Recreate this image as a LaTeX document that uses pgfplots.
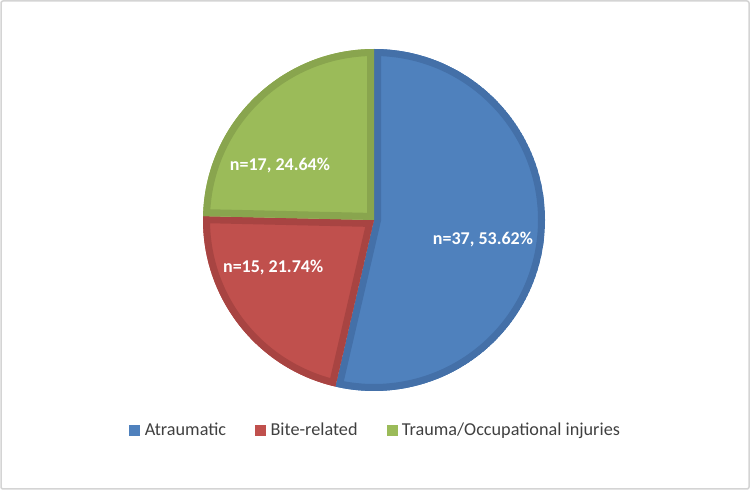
\documentclass[border=0pt]{standalone}
\usepackage{fontspec}
\setmainfont{Carlito}
\usepackage{pgfplots}
\pgfplotsset{compat=1.18}
\definecolor{pblue}{HTML}{4F81BD}
\definecolor{pblueD}{HTML}{4470A8}
\definecolor{pred}{HTML}{C0504D}
\definecolor{predD}{HTML}{A84442}
\definecolor{pgreen}{HTML}{9BBB59}
\definecolor{pgreenD}{HTML}{89A54E}
\definecolor{legtext}{HTML}{404040}
% data
\def\nA{37}\def\nB{15}\def\nC{17}
\pgfmathsetmacro\tot{\nA+\nB+\nC}
\pgfmathsetmacro\aA{90-360*\nA/\tot}
\pgfmathsetmacro\aB{\aA-360*\nB/\tot}
\pgfmathsetmacro\aC{\aB-360*\nC/\tot}
\def\R{171pt}
\begin{document}
\begin{tikzpicture}
\useasboundingbox (0,0) rectangle (750pt,490pt);
\draw[color=black!17, line width=1.5pt, rounded corners=2pt] (1pt,1pt) rectangle (749pt,489pt);
\begin{axis}[
  at={(374pt,270pt)}, anchor=origin,
  x=171pt, y=171pt,
  xmin=-1.05, xmax=1.05, ymin=-1.05, ymax=1.05,
  hide axis, clip=false,
  legend columns=-1,
  legend style={draw=none, fill=none, at={(axis cs:0.01,-1.228)}, anchor=center,
    font=\fontsize{18.2}{21}\selectfont, text=legtext,
    /tikz/every odd column/.append style={column sep=3pt},
    /tikz/every even column/.append style={column sep=27pt}},
  legend image code/.code={\fill[#1] (0pt,-5pt) rectangle (10pt,5pt);},
]
\addlegendimage{pblue}\addlegendentry{Atraumatic}
\addlegendimage{pred}\addlegendentry{Bite-related}
\addlegendimage{pgreen}\addlegendentry{Trauma/Occupational injuries}
% blue slice
\begin{scope}
\clip (axis cs:0,0) -- ++(90:\R) arc[start angle=90, end angle=\aA, radius=\R] -- cycle;
\filldraw[fill=pblue, draw=pblueD, line width=14pt] (axis cs:0,0) -- ++(90:\R) arc[start angle=90, end angle=\aA, radius=\R] -- cycle;
\end{scope}
% red slice
\begin{scope}
\clip (axis cs:0,0) -- ++(\aA:\R) arc[start angle=\aA, end angle=\aB, radius=\R] -- cycle;
\filldraw[fill=pred, draw=predD, line width=14pt] (axis cs:0,0) -- ++(\aA:\R) arc[start angle=\aA, end angle=\aB, radius=\R] -- cycle;
\end{scope}
% green slice
\begin{scope}
\clip (axis cs:0,0) -- ++(\aB:\R) arc[start angle=\aB, end angle=\aC, radius=\R] -- cycle;
\filldraw[fill=pgreen, draw=pgreenD, line width=14pt] (axis cs:0,0) -- ++(\aB:\R) arc[start angle=\aB, end angle=\aC, radius=\R] -- cycle;
\end{scope}
\node[text=white, font=\bfseries\fontsize{18}{20}\selectfont] at (axis cs:0.637,-0.117) {n=37, 53.62\%};
\node[text=white, font=\bfseries\fontsize{18}{20}\selectfont] at (axis cs:-0.59,-0.28) {n=15, 21.74\%};
\node[text=white, font=\bfseries\fontsize{18}{20}\selectfont] at (axis cs:-0.55,0.32) {n=17, 24.64\%};
\end{axis}
\end{tikzpicture}
\end{document}
